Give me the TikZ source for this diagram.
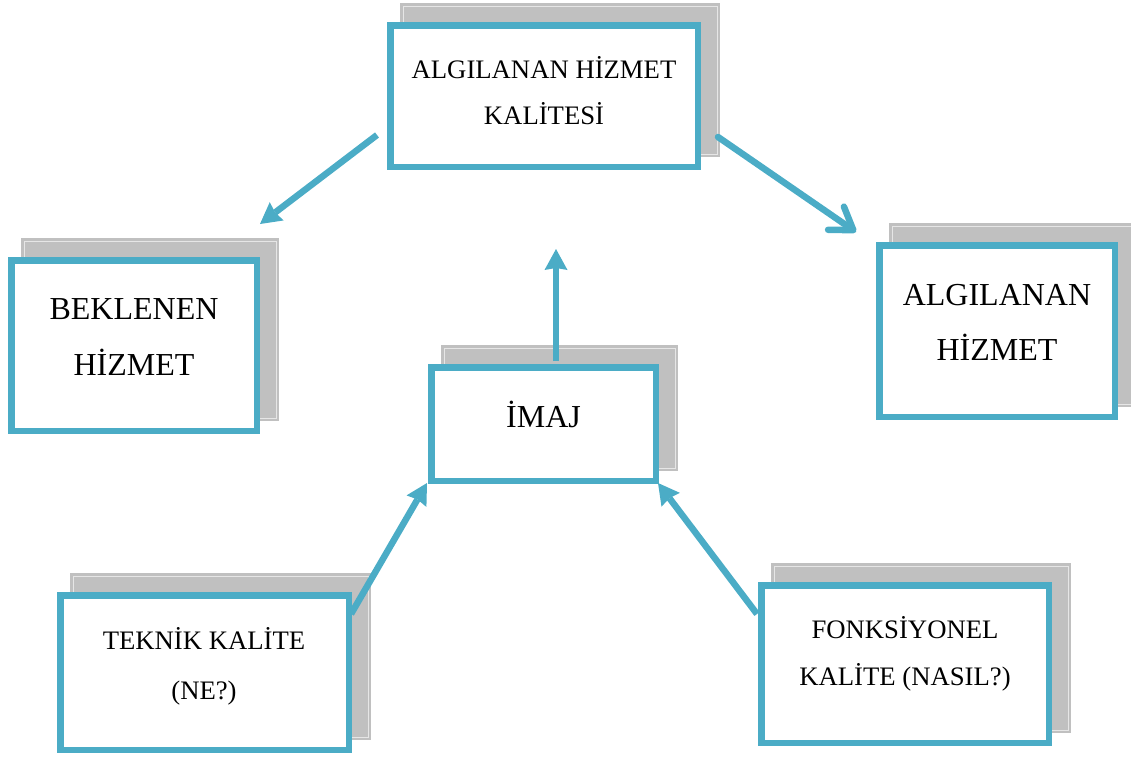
\documentclass[tikz,border=0pt]{standalone}
\usepackage{fontspec}
\setmainfont{Liberation Serif}
\usetikzlibrary{arrows.meta,calc}
\pgfdeclarelayer{background}
\pgfsetlayers{background,main}
\definecolor{aqua}{HTML}{4BACC6}
\definecolor{shade}{HTML}{C0C0C0}
\definecolor{shadeline}{HTML}{E6E6E6}

\begin{document}
\begin{tikzpicture}[x=1pt,y=-1pt,
  frame/.style={draw=aqua, line width=6.5pt, fill=white, inner sep=0pt},
  shadowfill/.style={fill=shade, draw=shade, line width=6.5pt},
  shadowrim/.style={draw=shadeline, line width=0.8pt},
  big/.style={font=\fontsize{32}{38}\selectfont, inner sep=0pt, anchor=base},
  small/.style={font=\fontsize{26.7}{32}\selectfont, inner sep=0pt, anchor=base},
  flow/.style={draw=aqua, line width=6.5pt,
    -{Stealth[length=21pt, width=23pt, inset=2pt, line width=0pt]}},
  openflow/.style={draw=aqua, line width=6.5pt, line cap=round,
    -{Straight Barb[round, length=21pt, width=28pt]}}]

\useasboundingbox (0,0) rectangle (1131,756);

% boxes
\node[frame, minimum width=307.5pt, minimum height=141.5pt] (b1) at (544,96) {};
\node[frame, minimum width=245.5pt, minimum height=170.5pt] (b2) at (134,345.5) {};
\node[frame, minimum width=235.5pt, minimum height=171.5pt] (b3) at (997,331) {};
\node[frame, minimum width=224.5pt, minimum height=113.5pt] (b4) at (543.5,424) {};
\node[frame, minimum width=288.5pt, minimum height=154.5pt] (b5) at (204.5,672.5) {};
\node[frame, minimum width=287.5pt, minimum height=157.5pt] (b6) at (905,664) {};

% offset grey shadows behind the boxes
\begin{pgfonlayer}{background}
  \foreach \b in {b1,b2,b3,b4,b5,b6} {
    \path[shadowfill] ($(\b.south west)+(16,-16)$) rectangle ($(\b.north east)+(16,-16)$);
    \path[shadowrim] ($(\b.south west)+(16,-16)$) rectangle ($(\b.north east)+(16,-16)$);
  }
\end{pgfonlayer}

% labels
\node[small] (t1a) at (544,78) {ALGILANAN HİZMET};
\node[small] (t1b) at (544,124) {KALİTESİ};
\node[big] (t2a) at (134,319) {BEKLENEN};
\node[big] (t2b) at (134,375) {HİZMET};
\node[big] (t3a) at (997,305) {ALGILANAN};
\node[big] (t3b) at (997,360) {HİZMET};
\node[big] (t4) at (543.5,427) {İMAJ};
\node[small] (t5a) at (204,649) {TEKNİK KALİTE};
\node[small] (t5b) at (204,699) {(NE?)};
\node[small] (t6a) at (905,638) {FONKSİYONEL};
\node[small] (t6b) at (905,685) {KALİTE (NASIL?)};

% connectors
\draw[flow] ($(b1.west)+(-10,39)$) -- ($(b2.north east)+(0,-33)$);
\draw[openflow] ($(b1.east)+(17,41)$) -- ($(b3.north west)+(-20,-10)$);
\draw[flow] ($(b4.north)+(12.5,-3)$) -- ($(b1.south)+(12,79)$);
\draw[flow] ($(b5.north east)+(-1,22)$) -- ($(b4.south west)+(-1,-1)$);
\draw[flow] ($(b6.north west)+(-1,32)$) -- ($(b4.south east)+(-1,-1)$);

\end{tikzpicture}
\end{document}
